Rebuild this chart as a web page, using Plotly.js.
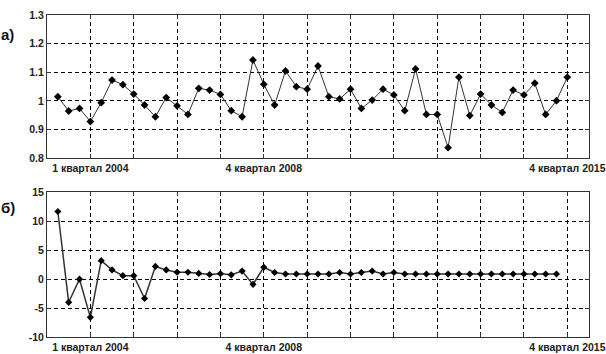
<!DOCTYPE html>
<html><head><meta charset="utf-8">
<script src="https://cdn.plot.ly/plotly-3.0.1.min.js"></script>
<style>html,body{margin:0;padding:0;background:#fff}#chart{width:606px;height:354px}</style>
</head><body><div id="chart"></div>
<script>
// quarter index 1..48 (Q1 2004 .. Q4 2015 region)
const quartersA = Array.from({length:48},(_,i)=>i+1);
const valuesA = [1.015,0.965,0.974,0.928,0.994,1.073,1.057,1.024,0.986,0.945,1.012,0.983,0.953,1.044,1.038,1.023,0.966,0.945,1.143,1.058,0.986,1.105,1.050,1.041,1.122,1.015,1.007,1.041,0.974,1.003,1.041,1.021,0.966,1.112,0.953,0.953,0.837,1.083,0.949,1.024,0.986,0.960,1.038,1.021,1.062,0.953,1.001,1.083];
const quartersB = Array.from({length:47},(_,i)=>i+1);
const valuesB = [11.7,-4.0,0.0,-6.6,3.2,1.6,0.6,0.6,-3.35,2.2,1.6,1.2,1.2,1.0,0.8,0.95,0.75,1.4,-0.9,2.05,1.15,0.9,0.9,0.9,0.9,0.9,1.15,0.9,1.15,1.4,0.9,1.15,0.9,0.9,0.9,0.9,0.9,0.9,0.9,0.9,0.9,0.9,0.9,0.9,0.9,0.9,0.9];
const xTickVals = [0,4,8,12,16,20,24,28,32,36,40,44,48];
const xTickText = ['','1 квартал 2004','','','','4 квартал 2008','','','','','','','4 квартал 2015'];
const yTickValsB = [-10,-5,0,5,10,15];
const yTickTextB = ['-10','-5','0','5','10','15'];
const panelLabels = ['а)','б)'];

const fontFam = 'Liberation Sans, Arial, sans-serif';
const tickFont = {family: fontFam, size: 10.5, color: '#222', weight: 'bold'};
const gridCommon = {showgrid:true, gridcolor:'#000', griddash:'4px,3px', gridwidth:1,
  showline:true, linecolor:'#333', linewidth:1, mirror:'ticks', ticks:'inside', ticklen:4, tickcolor:'#333',
  zeroline:false, tickfont: tickFont, ticklabeloverflow:'allow'};

const traces = [
  {x: quartersA, y: valuesA, xaxis:'x', yaxis:'y', mode:'lines+markers', type:'scatter',
   line:{color:'#333', width:1}, marker:{symbol:'diamond', size:6, color:'#000'}},
  {x: quartersB, y: valuesB, xaxis:'x2', yaxis:'y2', mode:'lines+markers', type:'scatter',
   line:{color:'#333', width:1.5}, marker:{symbol:'diamond', size:5.5, color:'#000'}}
];

const xCommon = Object.assign({}, gridCommon, {range:[0,50], tickmode:'array', tickvals:xTickVals, ticktext:xTickText});
const layout = {
  width:606, height:354, showlegend:false,
  paper_bgcolor:'#fff', plot_bgcolor:'#fff',
  margin:{l:47, r:17, t:15, b:17},
  xaxis: Object.assign({}, xCommon, {anchor:'y'}),
  yaxis: Object.assign({}, gridCommon, {domain:[0.555,1], range:[0.8,1.3], tickmode:'linear', tick0:0.8, dtick:0.1, anchor:'x'}),
  xaxis2: Object.assign({}, xCommon, {anchor:'y2'}),
  yaxis2: Object.assign({}, gridCommon, {domain:[0,0.449], range:[-10,15], tickmode:'array', tickvals:yTickValsB, ticktext:yTickTextB, anchor:'x2'}),
  annotations: [
    {text: panelLabels[0], xref:'paper', yref:'paper', x:-0.072, y:0.94, xanchor:'center', yanchor:'middle', showarrow:false,
     font:{family:fontFam, size:15, color:'#111', weight:'bold'}},
    {text: panelLabels[1], xref:'paper', yref:'paper', x:-0.072, y:0.402, xanchor:'center', yanchor:'middle', showarrow:false,
     font:{family:fontFam, size:15, color:'#111', weight:'bold'}}
  ]
};
Plotly.newPlot('chart', traces, layout, {displayModeBar:false, staticPlot:true});
</script></body></html>
